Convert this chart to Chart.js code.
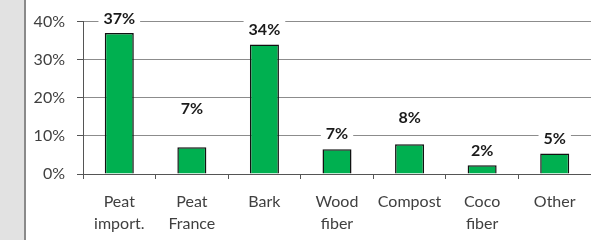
<!DOCTYPE html>
<html>
<head>
<meta charset="utf-8">
<script src="https://cdn.jsdelivr.net/npm/chart.js@4"></script>
<style>
  body { margin: 0; background: #fff; }
  #wrap { position: relative; width: 591px; height: 240px; }
  #side { position: absolute; left: 0; top: 0; width: 24px; height: 240px; background: #e2e2e2; border-right: 2px solid #8a8a8a; }
  #chart { position: absolute; left: 0; top: 0; }
</style>
</head>
<body>
<div id="wrap">
  <div id="side"></div>
  <canvas id="chart" width="591" height="240"></canvas>
</div>
<script>
const categories = [["Peat", "import."], ["Peat", "France"], "Bark", ["Wood", "fiber"], "Compost", ["Coco", "fiber"], "Other"];
const shares = [37, 7, 34, 6.5, 7.8, 2.3, 5.4];
const shareLabels = ["37%", "7%", "34%", "7%", "8%", "2%", "5%"];
const yTicks = [0, 10, 20, 30, 40];

const ctx = document.getElementById("chart");

// label height above the bar top, per bar (as in the original layout)
const labelLift = [15, 39, 16, 16, 27, 15, 16];

const valueLabels = {
  id: "valueLabels",
  afterDatasetsDraw(chart) {
    const c = chart.ctx;
    const meta = chart.getDatasetMeta(0);
    c.save();
    c.font = "bold 16px Lato";
    c.textAlign = "center";
    c.textBaseline = "middle";
    meta.data.forEach((bar, i) => {
      const x = bar.x;
      const y = bar.y - labelLift[i];
      const w = c.measureText(shareLabels[i]).width + 10;
      c.fillStyle = "#fff";
      c.fillRect(x - w / 2, y - 9, w, 18);
      c.fillStyle = "#1a1a1a";
      c.fillText(shareLabels[i], x, y + 1);
    });
    c.restore();
  },
};

new Chart(ctx, {
  type: "bar",
  data: {
    labels: categories,
    datasets: [
      {
        data: shares,
        backgroundColor: "#00b050",
        borderColor: "#111",
        borderWidth: 1.5,
        categoryPercentage: 1,
        barPercentage: 0.4,
      },
    ],
  },
  options: {
    responsive: false,
    animation: false,
    layout: { padding: { top: 20, right: 0, left: 0, bottom: 0 } },
    plugins: { legend: { display: false }, tooltip: { enabled: false } },
    scales: {
      y: {
        min: 0,
        max: 40,
        afterBuildTicks(scale) {
          scale.ticks = yTicks.map((v) => ({ value: v }));
        },
        afterFit(scale) {
          scale.width = 83;
        },
        ticks: {
          padding: 12,
          color: "#404040",
          font: { family: "Lato", size: 16 },
          callback: (v) => v + "%",
        },
        grid: { color: "#8c8c8c", lineWidth: 1, tickLength: 6, tickColor: "#555" },
        border: { color: "#555", width: 1 },
      },
      x: {
        afterFit(scale) {
          scale.height = 66;
        },
        ticks: {
          padding: 12,
          color: "#404040",
          font: { family: "Lato", size: 16, lineHeight: 1.35 },
          maxRotation: 0,
        },
        grid: { display: true, drawOnChartArea: false, tickLength: 5, color: "#555", offset: true },
        border: { color: "#555", width: 1 },
      },
    },
  },
  plugins: [valueLabels],
});
</script>
</body>
</html>
